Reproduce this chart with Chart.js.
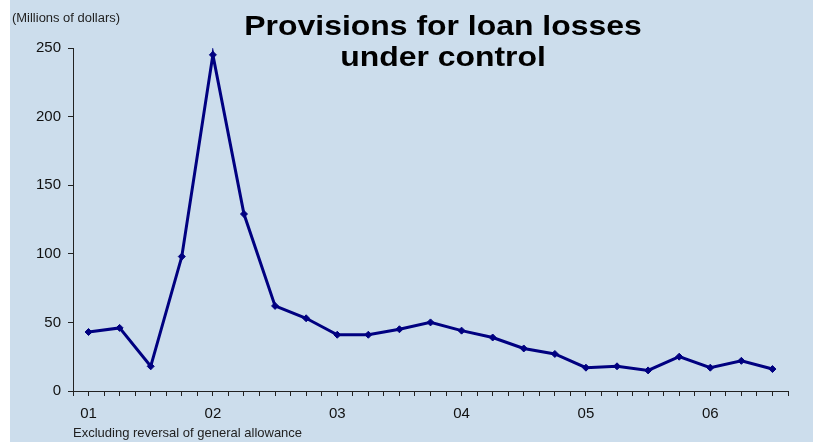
<!DOCTYPE html>
<html>
<head>
<meta charset="utf-8">
<script src="https://cdn.jsdelivr.net/npm/chart.js@4/dist/chart.umd.min.js"></script>
<style>
  html, body { margin: 0; padding: 0; background: #ffffff; }
  #wrap { position: absolute; left: 10px; top: 0; width: 803px; height: 442px; background: #ccddec; overflow: hidden; }
  canvas { position: absolute; left: 0; top: 0; }
  .txt { position: absolute; font-family: "Liberation Sans", Arial, sans-serif; color: #000; white-space: nowrap; }
  #title { left: 133px; width: 600px; top: 10px; text-align: center; font-weight: bold; font-size: 28px; line-height: 31px; transform: scaleX(1.14); transform-origin: 50% 50%; }
  #units { left: 2px; top: 11px; font-size: 12px; color: #222; transform: scaleX(1.08); transform-origin: 0 50%; }
  #note { left: 63px; top: 425px; font-size: 13px; color: #222; }
</style>
</head>
<body>
<div id="wrap">
  <canvas id="c" width="803" height="442"></canvas>
  <div class="txt" id="title">Provisions for loan losses<br>under control</div>
  <div class="txt" id="units">(Millions of dollars)</div>
  <div class="txt" id="note">Excluding reversal of general allowance</div>
</div>
<script>
// Quarterly categories (2001 Q1 ... 2006 Q3)
const categories = [
  "01Q1","01Q2","01Q3","01Q4",
  "02Q1","02Q2","02Q3","02Q4",
  "03Q1","03Q2","03Q3","03Q4",
  "04Q1","04Q2","04Q3","04Q4",
  "05Q1","05Q2","05Q3","05Q4",
  "06Q1","06Q2","06Q3"
];
// Provisions for loan losses (millions of dollars)
const provisions = [
  43, 46, 18, 98,
  245, 129, 62, 53,
  41, 41, 45, 50,
  44, 39, 31, 27,
  17, 18, 15, 25,
  17, 22, 16
];
// Year tick labels, placed on the first quarter of each year
const yearLabels = ["01","02","03","04","05","06"];
const yTicks = [0, 50, 100, 150, 200, 250];

const points = provisions.map((v, i) => ({ x: i, y: v }));

new Chart(document.getElementById('c'), {
  type: 'line',
  data: {
    datasets: [{
      label: 'Provisions',
      data: points,
      borderColor: '#000080',
      backgroundColor: '#000080',
      borderWidth: 3,
      pointStyle: 'rectRot',
      pointRadius: 3.5,
      pointBorderWidth: 1,
      tension: 0
    }]
  },
  options: {
    responsive: false,
    animation: false,
    layout: { padding: { top: 48, right: 25, bottom: 0, left: 0 } },
    plugins: { legend: { display: false }, tooltip: { enabled: false }, title: { display: false } },
    scales: {
      x: {
        type: 'linear',
        min: -0.5,
        max: categories.length - 0.5,
        afterFit: s => { s.height = 51; },
        afterBuildTicks: s => {
          const t = [];
          for (let k = 0; k <= categories.length * 2; k++) t.push({ value: -0.5 + k * 0.5 });
          s.ticks = t;
        },
        ticks: {
          autoSkip: false,
          maxRotation: 0,
          padding: 9,
          color: '#111',
          font: { family: '"Liberation Sans", Arial, sans-serif', size: 15 },
          callback: v => {
            if (Number.isInteger(v) && v % 4 === 0) return yearLabels[v / 4] ?? '';
            return '';
          }
        },
        grid: { display: true, drawOnChartArea: false, drawTicks: true, tickLength: 5, color: '#222', lineWidth: 1 },
        border: { display: true, color: '#222', width: 1 }
      },
      y: {
        min: 0,
        max: 250,
        afterFit: s => { s.width = 63; },
        afterBuildTicks: s => { s.ticks = yTicks.map(v => ({ value: v })); },
        ticks: {
          padding: 7,
          color: '#111',
          font: { family: '"Liberation Sans", Arial, sans-serif', size: 15 }
        },
        grid: { display: true, drawOnChartArea: false, drawTicks: true, tickLength: 5, color: '#222', lineWidth: 1 },
        border: { display: true, color: '#222', width: 1 }
      }
    }
  }
});
</script>
</body>
</html>
